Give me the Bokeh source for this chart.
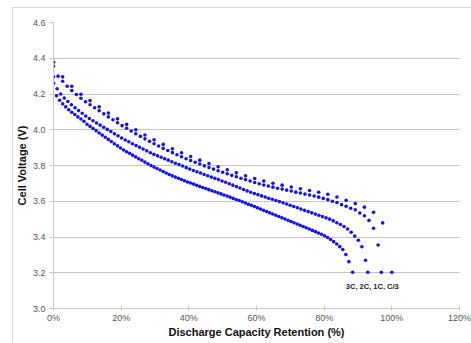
from bokeh.plotting import figure
from bokeh.models import Range1d, FixedTicker, PrintfTickFormatter, Label
from bokeh.embed import file_html
from bokeh.resources import INLINE

# Discharge capacity retention (%) and cell voltage (V) per C-rate
cap_c3 = [0.0, 2.7, 5.41, 8.11, 10.81, 13.51, 16.22, 18.92, 21.62, 24.32, 27.03, 29.73, 32.43,
          35.14, 37.84, 40.54, 43.24, 45.95, 48.65, 51.35, 54.05, 56.76, 59.46, 62.16, 64.86,
          67.57, 70.27, 72.97, 75.68, 78.38, 81.08, 83.78, 86.49, 89.19, 91.89, 94.59, 97.3, 100.0]
v_c3 = [4.378, 4.296, 4.243, 4.199, 4.163, 4.128, 4.094, 4.061, 4.030, 4.000, 3.971, 3.944, 3.918,
        3.894, 3.871, 3.850, 3.830, 3.811, 3.793, 3.776, 3.759, 3.743, 3.727, 3.713, 3.701,
        3.690, 3.680, 3.670, 3.660, 3.650, 3.639, 3.624, 3.606, 3.587, 3.567, 3.538, 3.479, 3.203]

cap_1c = [0.0, 1.35, 2.7, 4.05, 5.41, 6.76, 8.11, 9.46, 10.81, 12.16, 13.51, 14.86, 16.22, 17.57,
          18.92, 20.27, 21.62, 22.97, 24.32, 25.68, 27.03, 28.38, 29.73, 31.08, 32.43, 33.78,
          35.14, 36.49, 37.84, 39.19, 40.54, 41.89, 43.24, 44.59, 45.95, 47.3, 48.65, 50.0,
          51.35, 52.7, 54.05, 55.41, 56.76, 58.11, 59.46, 60.81, 62.16, 63.51, 64.86, 66.22,
          67.57, 68.92, 70.27, 71.62, 72.97, 74.32, 75.68, 77.03, 78.38, 79.73, 81.08, 82.43,
          83.78, 85.14, 86.49, 87.84, 89.19, 90.54, 91.89, 93.24, 94.59, 95.95, 96.9]
v_1c = [4.356, 4.300, 4.271, 4.243, 4.219, 4.197, 4.176, 4.157, 4.140, 4.123, 4.106, 4.089, 4.072,
        4.056, 4.039, 4.023, 4.008, 3.993, 3.978, 3.963, 3.949, 3.935, 3.922, 3.909, 3.896,
        3.884, 3.872, 3.860, 3.849, 3.838, 3.828, 3.818, 3.808, 3.798, 3.789, 3.780, 3.771,
        3.762, 3.754, 3.745, 3.737, 3.729, 3.721, 3.713, 3.705, 3.698, 3.691, 3.685, 3.679,
        3.673, 3.668, 3.662, 3.657, 3.651, 3.646, 3.640, 3.635, 3.629, 3.623, 3.616, 3.609,
        3.600, 3.593, 3.581, 3.572, 3.561, 3.552, 3.534, 3.519, 3.493, 3.449, 3.355, 3.203]

cap_2c = [0.0, 1.06, 2.12, 3.18, 4.24, 5.3, 6.36, 7.42, 8.48, 9.54, 10.6, 11.66, 12.72, 13.78,
          14.84, 15.9, 16.96, 18.02, 19.08, 20.14, 21.2, 22.26, 23.32, 24.38, 25.44, 26.5,
          27.56, 28.62, 29.68, 30.74, 31.8, 32.86, 33.92, 34.98, 36.04, 37.1, 38.16, 39.22,
          40.28, 41.34, 42.4, 43.46, 44.52, 45.58, 46.64, 47.7, 48.76, 49.82, 50.88, 51.94,
          53.0, 54.06, 55.12, 56.18, 57.24, 58.3, 59.36, 60.42, 61.48, 62.54, 63.6, 64.66,
          65.72, 66.78, 67.84, 68.9, 69.96, 71.02, 72.08, 73.14, 74.2, 75.26, 76.32, 77.38,
          78.44, 79.5, 80.56, 81.62, 82.68, 83.74, 84.8, 85.86, 86.92, 87.98, 89.04, 90.1,
          91.16, 92.22, 92.9]
v_2c = [4.296, 4.229, 4.200, 4.178, 4.158, 4.140, 4.123, 4.107, 4.092, 4.077, 4.063, 4.050, 4.038,
        4.026, 4.014, 4.002, 3.990, 3.978, 3.966, 3.954, 3.943, 3.933, 3.922, 3.912, 3.902,
        3.892, 3.882, 3.871, 3.862, 3.854, 3.846, 3.838, 3.830, 3.821, 3.813, 3.805, 3.797,
        3.788, 3.780, 3.772, 3.765, 3.758, 3.750, 3.743, 3.735, 3.728, 3.721, 3.713, 3.706,
        3.698, 3.690, 3.682, 3.674, 3.666, 3.658, 3.650, 3.643, 3.637, 3.630, 3.624, 3.617,
        3.611, 3.604, 3.598, 3.591, 3.585, 3.578, 3.571, 3.564, 3.556, 3.549, 3.542, 3.535,
        3.528, 3.521, 3.514, 3.507, 3.500, 3.490, 3.480, 3.470, 3.459, 3.445, 3.427, 3.405,
        3.382, 3.345, 3.270, 3.203]

cap_3c = [0.0, 0.9, 1.8, 2.7, 3.6, 4.5, 5.4, 6.3, 7.2, 8.1, 9.0, 9.9, 10.8, 11.7, 12.6, 13.5,
          14.4, 15.3, 16.2, 17.1, 18.0, 18.9, 19.8, 20.7, 21.6, 22.5, 23.4, 24.3, 25.2, 26.1,
          27.0, 27.9, 28.8, 29.7, 30.6, 31.5, 32.4, 33.3, 34.2, 35.1, 36.0, 36.9, 37.8, 38.7,
          39.6, 40.5, 41.4, 42.3, 43.2, 44.1, 45.0, 45.9, 46.8, 47.7, 48.6, 49.5, 50.4, 51.3,
          52.2, 53.1, 54.0, 54.9, 55.8, 56.7, 57.6, 58.5, 59.4, 60.3, 61.2, 62.1, 63.0, 63.9,
          64.8, 65.7, 66.6, 67.5, 68.4, 69.3, 70.2, 71.1, 72.0, 72.9, 73.8, 74.7, 75.6, 76.5,
          77.4, 78.3, 79.2, 80.1, 81.0, 81.9, 82.8, 83.7, 84.6, 85.5, 86.4, 87.3, 88.4]
v_3c = [4.260, 4.190, 4.165, 4.145, 4.128, 4.112, 4.098, 4.085, 4.072, 4.060, 4.047, 4.031, 4.019,
        4.007, 3.995, 3.982, 3.970, 3.958, 3.946, 3.934, 3.922, 3.910, 3.898, 3.887, 3.877,
        3.868, 3.858, 3.848, 3.838, 3.829, 3.819, 3.810, 3.800, 3.791, 3.783, 3.775, 3.766,
        3.758, 3.750, 3.742, 3.735, 3.729, 3.722, 3.715, 3.708, 3.702, 3.696, 3.689, 3.683,
        3.677, 3.671, 3.665, 3.659, 3.653, 3.647, 3.641, 3.635, 3.629, 3.623, 3.616, 3.610,
        3.604, 3.597, 3.590, 3.583, 3.577, 3.570, 3.563, 3.556, 3.549, 3.542, 3.535, 3.529,
        3.522, 3.515, 3.508, 3.501, 3.494, 3.487, 3.480, 3.473, 3.466, 3.459, 3.452, 3.445,
        3.437, 3.430, 3.422, 3.415, 3.407, 3.397, 3.386, 3.374, 3.361, 3.346, 3.330, 3.302,
        3.262, 3.203]

x_ticks = [0, 20, 40, 60, 80, 100, 120]
y_ticks = [3.0, 3.2, 3.4, 3.6, 3.8, 4.0, 4.2, 4.4, 4.6]
rate_label = "3C,  2C, 1C, C/3"

p = figure(width=471, height=343, output_backend="svg", toolbar_location=None,
           x_range=Range1d(0, 120), y_range=Range1d(3.0, 4.6),
           min_border_left=53, min_border_right=12, min_border_top=22, min_border_bottom=35)
p.outline_line_color = None
p.background_fill_color = "white"
p.border_fill_color = None
# light grey chart-area border (top and left edges), drawn behind the transparent canvas
edge = "linear-gradient(#d9d9d9, #d9d9d9)"
p.styles = {
    "background": f"{edge} 12px 7px / 459px 1px no-repeat, "
                  f"{edge} 12px 7px / 1px 336px no-repeat, white",
}

p.xgrid.visible = False
p.ygrid.ticker = FixedTicker(ticks=y_ticks)
p.ygrid.grid_line_color = "#c4c4c4"
p.ygrid.grid_line_width = 1

font = "Liberation Sans"
p.xaxis.ticker = FixedTicker(ticks=x_ticks)
p.xaxis.formatter = PrintfTickFormatter(format="%d%%")
p.yaxis.ticker = FixedTicker(ticks=y_ticks)
p.yaxis.formatter = PrintfTickFormatter(format="%.1f")
for ax in (p.xaxis, p.yaxis):
    ax.axis_line_color = "#c8c8c8"
    ax.major_tick_line_color = "#c8c8c8"
    ax.minor_tick_line_color = None
    ax.major_label_text_font = font
    ax.major_label_text_font_size = "9px"
    ax.major_label_text_color = "#555555"
    ax.axis_label_text_font = font
    ax.axis_label_text_font_size = "11px"
    ax.axis_label_text_font_style = "bold"
    ax.axis_label_text_color = "#111111"
p.xaxis.major_tick_in = 3
p.xaxis.major_tick_out = 2
p.xaxis.major_label_standoff = 2
p.xaxis.axis_label_standoff = 0
p.yaxis.major_tick_in = 0
p.yaxis.major_tick_out = 4
p.yaxis.major_label_standoff = 4
p.yaxis.axis_label_standoff = 2
p.xaxis.axis_label = "Discharge Capacity Retention (%)"
p.yaxis.axis_label = "Cell Voltage (V)"

blue = "#1010ff"
for cx, vy in ((cap_c3, v_c3), (cap_1c, v_1c), (cap_2c, v_2c), (cap_3c, v_3c)):
    p.scatter(cx, vy, size=3.6, fill_color=blue, line_color=None)

p.add_layout(Label(x=86.4, y=3.125, text=rate_label, text_font=font, text_font_size="7.5px",
                   text_font_style="bold", text_color="#222222", text_baseline="middle"))

open("out.html", "w").write(file_html(p, INLINE))
